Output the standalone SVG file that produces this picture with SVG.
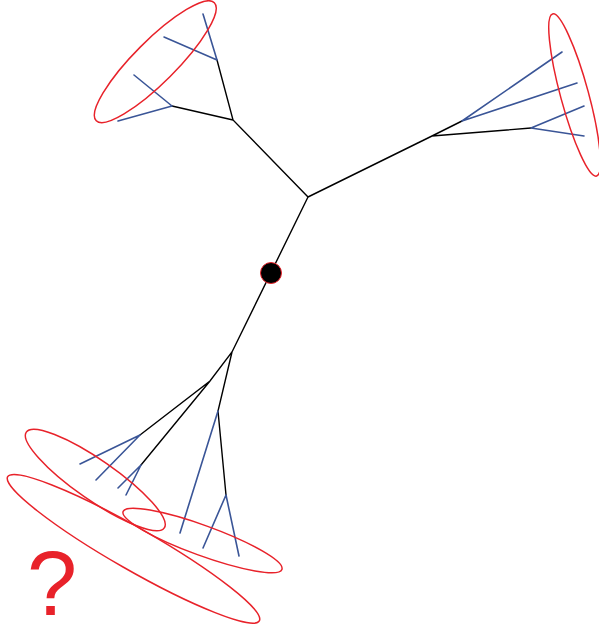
<svg xmlns="http://www.w3.org/2000/svg" width="599" height="628" viewBox="0 0 599 628">
<style>
.k{stroke:#000;stroke-width:1.4;fill:none;stroke-linecap:round}
.b{stroke:#3a5597;stroke-width:1.6;fill:none;stroke-linecap:round}
.e{stroke:#e8222a;stroke-width:1.5;fill:none}
.q{font-family:"Liberation Sans",Arial,sans-serif;font-size:90px;fill:#e8222a}
</style>
<rect width="599" height="628" fill="#fff"/>
<g id="connectors">
<path class="k" d="M308,197L233,120L217,60M233,120L172,106M308,197L432,136L462,121M432,136L531,128M308,197L232,352L210,381L140,435M210,381L141,465M232,352L218,411L226,495"/>
<path class="b" d="M217,60L203,14M217,60L164,37M172,106L134,75M172,106L118,121M462,121L562,52M462,121L577,83M531,128L584,106M531,128L584,136M140,435L80,464M140,435L96,480M141,465L118,488M141,465L126,495M218,411L180,533M226,495L203,548M226,495L239,556"/>
</g>
<g id="clade-top-left"><ellipse class="e" cx="155.3" cy="61.7" rx="83.5" ry="21" transform="rotate(-45 155.3 61.7)"/></g>
<g id="clade-right"><ellipse class="e" cx="574.6" cy="95" rx="84" ry="14" transform="rotate(74.8 574.6 95)"/></g>
<g id="clade-bottom-1"><ellipse class="e" cx="95.3" cy="480" rx="84" ry="20" transform="rotate(34.8 95.3 480)"/></g>
<g id="clade-bottom-2"><ellipse class="e" cx="133.5" cy="548.8" rx="145" ry="21" transform="rotate(29.8 133.5 548.8)"/></g>
<g id="clade-bottom-3"><ellipse class="e" cx="202.5" cy="540.5" rx="84.5" ry="15" transform="rotate(20 202.5 540.5)"/></g>
<g id="root"><circle cx="271" cy="273" r="10.5" fill="#000" stroke="#e8222a" stroke-width="1"/></g>
<g id="label"><text class="q" x="27" y="615">?</text></g>
</svg>
